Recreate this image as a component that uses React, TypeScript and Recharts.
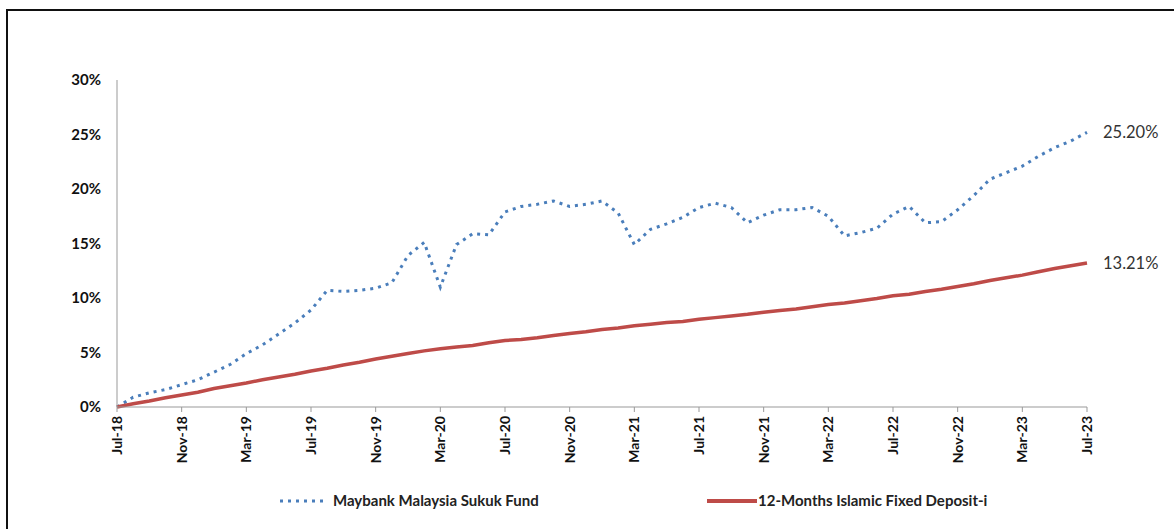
import { LineChart, Line, XAxis, YAxis, Legend } from 'recharts';

const months = [
  'Jul-18', 'Aug-18', 'Sep-18', 'Oct-18', 'Nov-18', 'Dec-18',
  'Jan-19', 'Feb-19', 'Mar-19', 'Apr-19', 'May-19', 'Jun-19',
  'Jul-19', 'Aug-19', 'Sep-19', 'Oct-19', 'Nov-19', 'Dec-19',
  'Jan-20', 'Feb-20', 'Mar-20', 'Apr-20', 'May-20', 'Jun-20',
  'Jul-20', 'Aug-20', 'Sep-20', 'Oct-20', 'Nov-20', 'Dec-20',
  'Jan-21', 'Feb-21', 'Mar-21', 'Apr-21', 'May-21', 'Jun-21',
  'Jul-21', 'Aug-21', 'Sep-21', 'Oct-21', 'Nov-21', 'Dec-21',
  'Jan-22', 'Feb-22', 'Mar-22', 'Apr-22', 'May-22', 'Jun-22',
  'Jul-22', 'Aug-22', 'Sep-22', 'Oct-22', 'Nov-22', 'Dec-22',
  'Jan-23', 'Feb-23', 'Mar-23', 'Apr-23', 'May-23', 'Jun-23',
  'Jul-23',
];

// cumulative return, %
const sukukFund = [
  0, 0.9, 1.3, 1.6, 2.05, 2.5,
  3.2, 3.9, 4.9, 5.7, 6.7, 7.7,
  8.9, 10.7, 10.6, 10.7, 10.9, 11.4,
  13.9, 15.1, 11.0, 14.9, 15.9, 15.8,
  17.9, 18.4, 18.6, 18.9, 18.4, 18.6,
  18.9, 17.8, 14.9, 16.3, 16.8, 17.4,
  18.3, 18.7, 18.3, 16.9, 17.6, 18.1,
  18.1, 18.3, 17.5, 15.7, 16.0, 16.4,
  17.7, 18.4, 16.9, 17.0, 18.1, 19.4,
  20.9, 21.5, 22.1, 23.0, 23.8, 24.4,
  25.2,
];

const fixedDeposit = [
  0, 0.3, 0.55, 0.85, 1.1, 1.35,
  1.7, 1.95, 2.2, 2.5, 2.75, 3.0,
  3.3, 3.55, 3.85, 4.1, 4.4, 4.65,
  4.9, 5.15, 5.35, 5.5, 5.65, 5.9,
  6.1, 6.2, 6.35, 6.55, 6.75, 6.9,
  7.1, 7.25, 7.45, 7.6, 7.75, 7.85,
  8.05, 8.2, 8.35, 8.5, 8.7, 8.85,
  9.0, 9.2, 9.4, 9.55, 9.75, 9.95,
  10.2, 10.35, 10.6, 10.8, 11.05, 11.3,
  11.6, 11.85, 12.1, 12.4, 12.7, 12.95,
  13.21,
];

const yTicks = [0, 5, 10, 15, 20, 25, 30];
const endLabels = ['25.20%', '13.21%'];

const data = months.map((m, i) => ({ month: m, fund: sukukFund[i], fd: fixedDeposit[i] }));

const BLUE = '#4a7ebb';
const RED = '#be4b48';
const FONT = 'Lato, "Open Sans", sans-serif';

function XTick({ x, y, payload }: any) {
  return (
    <text
      x={x}
      y={y}
      transform={`rotate(-90, ${x}, ${y})`}
      textAnchor="end"
      dy="0.35em"
      fontSize={14}
      fontWeight={700}
      fontFamily={FONT}
      fill="#111"
    >
      {payload.value}
    </text>
  );
}

const endLabel = (text: string) => (props: any) => {
  const { x, y, index } = props;
  if (index !== data.length - 1) return null;
  return (
    <text x={x + 16} y={y} dy={6} fontSize={16.5} fontFamily={FONT} fill="#333">
      {text}
    </text>
  );
};

function LegendBox() {
  return (
    <div style={{ position: 'relative', height: 24, fontFamily: FONT, fontWeight: 700, fontSize: 15, color: '#222' }}>
      <svg style={{ position: 'absolute', left: 279, top: 4 }} width={48} height={16}>
        <line x1={1} y1={8} x2={47} y2={8} stroke={BLUE} strokeWidth={3} strokeDasharray="3 5" />
      </svg>
      <span style={{ position: 'absolute', left: 333, top: 2 }}>Maybank Malaysia Sukuk Fund</span>
      <svg style={{ position: 'absolute', left: 707, top: 4 }} width={50} height={16}>
        <line x1={0} y1={8} x2={50} y2={8} stroke={RED} strokeWidth={4} />
      </svg>
      <span style={{ position: 'absolute', left: 758, top: 2 }}>12-Months Islamic Fixed Deposit-i</span>
    </div>
  );
}

export default function App() {
  return (
    <div style={{ position: 'absolute', left: 0, top: 0, width: 1174, height: 529, background: '#fff', overflow: 'hidden' }}>
      <div
        style={{
          position: 'absolute',
          left: 6,
          top: 9,
          width: 1200,
          height: 600,
          borderTop: '2px solid #111',
          borderLeft: '2px solid #111',
        }}
      />
      <LineChart
        width={1174}
        height={529}
        data={data}
        margin={{ top: 80, right: 87, left: 0, bottom: 0 }}
        style={{ position: 'absolute', left: 0, top: 0 }}
      >
        <XAxis
          dataKey="month"
          interval={3}
          height={98}
          tick={<XTick />}
          tickSize={5}
          tickMargin={4}
          stroke="#999"
          tickLine={{ stroke: '#999' }}
        />
        <YAxis
          width={117}
          domain={[0, 30]}
          ticks={yTicks}
          tickFormatter={(v: number) => `${v}%`}
          tickLine={false}
          tickSize={0}
          tickMargin={16}
          stroke="#999"
          tick={{ fontSize: 15, fontWeight: 700, fontFamily: FONT, fill: '#111' }}
        />
        <Legend
          content={<LegendBox />}
          wrapperStyle={{ position: 'absolute', left: 0, top: 489, width: 1174 }}
        />
        <Line
          type="linear"
          dataKey="fund"
          name="Maybank Malaysia Sukuk Fund"
          stroke={BLUE}
          strokeWidth={3}
          strokeDasharray="3 5"
          dot={false}
          isAnimationActive={false}
          label={endLabel(endLabels[0])}
        />
        <Line
          type="linear"
          dataKey="fd"
          name="12-Months Islamic Fixed Deposit-i"
          stroke={RED}
          strokeWidth={3.5}
          dot={false}
          isAnimationActive={false}
          label={endLabel(endLabels[1])}
        />
      </LineChart>
    </div>
  );
}
